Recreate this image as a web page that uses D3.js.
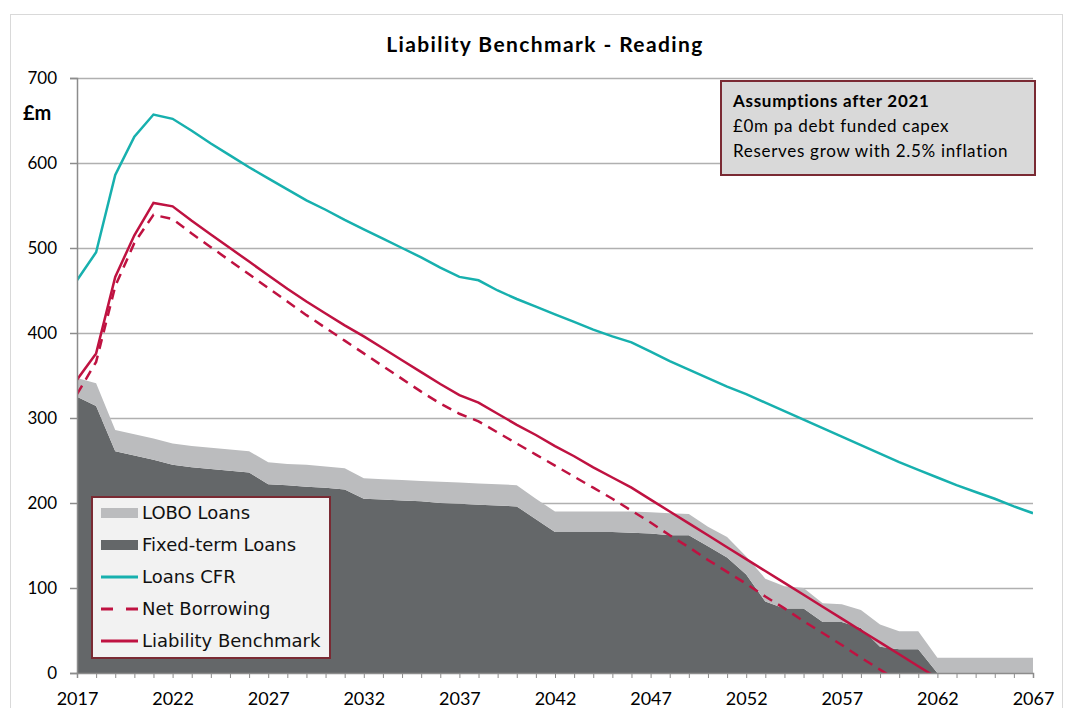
<!DOCTYPE html>
<html>
<head>
<meta charset="utf-8">
<script src="https://cdnjs.cloudflare.com/ajax/libs/d3/7.8.5/d3.min.js"></script>
<style>
  body { margin: 0; background: #fff; }
  svg { display: block; }
</style>
</head>
<body>
<div id="chart"></div>
<script>
// years on the x axis, one point per year
var years = [2017, 2018, 2019, 2020, 2021, 2022, 2023, 2024, 2025, 2026,
  2027, 2028, 2029, 2030, 2031, 2032, 2033, 2034, 2035, 2036,
  2037, 2038, 2039, 2040, 2041, 2042, 2043, 2044, 2045, 2046,
  2047, 2048, 2049, 2050, 2051, 2052, 2053, 2054, 2055, 2056,
  2057, 2058, 2059, 2060, 2061, 2062, 2063, 2064, 2065, 2066, 2067];
var xLabelYears = [2017, 2022, 2027, 2032, 2037, 2042, 2047, 2052, 2057, 2062, 2067];
var yTicks = [0, 100, 200, 300, 400, 500, 600, 700];

// stacked areas (£m)
var fixedTerm = [325, 314, 261, 256, 251, 245, 242, 240, 238, 236,
  222, 221, 219, 218, 216, 205, 204, 203, 202, 200,
  199, 198, 197, 196, 181, 166, 166, 166, 166, 165,
  164, 162, 162, 149, 136, 116, 84, 76, 76, 60,
  60, 53, 31, 28, 28, 0, 0, 0, 0, 0, 0];
var lobo = [22, 27, 25, 25, 25, 25, 25, 25, 25, 25,
  26, 25, 26, 25, 25, 24, 24, 24, 24, 25,
  25, 25, 25, 25, 24, 24, 24, 24, 24, 25,
  25, 26, 25, 23, 24, 21, 27, 26, 24, 22,
  21, 21, 26, 21, 21, 18, 18, 18, 18, 18, 18];

// lines (£m)
var loansCFR = [462, 495, 586, 631, 657, 652, 638, 623, 609, 595,
  582, 569, 556, 545, 533, 522, 511, 500, 489, 477,
  466, 462, 450, 440, 431, 422, 413, 404, 396, 389,
  378, 367, 357, 347, 337, 328, 318, 308, 298, 288,
  278, 268, 258, 248, 239, 230, 221, 213, 205, 196, 188];
var netBorrowing = [328, 366, 455, 506, 539, 534, 517, 501, 485, 469,
  453, 437, 421, 406, 391, 376, 361, 346, 331, 317,
  305, 296, 283, 270, 257, 244, 231, 218, 205, 191,
  177, 162, 148, 133, 119, 105, 90, 76, 61, 47,
  33, 18, 4, -10];
var liabilityBenchmark = [345, 376, 466, 515, 553, 549, 532, 516, 500, 484,
  468, 452, 437, 423, 409, 396, 382, 368, 354, 340,
  327, 318, 305, 292, 280, 267, 255, 242, 230, 218,
  204, 190, 176, 162, 148, 134, 120, 106, 92, 78,
  64, 50, 36, 22, 8, -6];

var legendNames = ["LOBO Loans", "Fixed-term Loans", "Loans CFR", "Net Borrowing", "Liability Benchmark"];
var boxLines = ["Assumptions after 2021", "\u00a30m pa debt funded capex", "Reserves grow with 2.5% inflation"];

var colLobo = "#bbbcbe";
var colFixed = "#646769";
var colCFR = "#17b0ae";
var colRed = "#bf1241";
var colFrame = "#7a2a33";

var w = 1069, h = 708;
var plotLeft = 77, plotRight = 1033, plotTop = 78, plotBottom = 673;

var svg = d3.select("#chart").append("svg")
  .attr("width", w)
  .attr("height", h);

// outer chart frame
svg.append("rect")
  .attr("x", 10.5).attr("y", 14.5)
  .attr("width", 1052).attr("height", 720)
  .attr("fill", "none")
  .attr("stroke", "#d9d9d9");

var x = d3.scaleLinear().domain([2017, 2067]).range([plotLeft, plotRight]);
var y = d3.scaleLinear().domain([0, 700]).range([plotBottom, plotTop]);

var font = "Lato, 'Open Sans', sans-serif";

// title
svg.append("text")
  .attr("x", 545).attr("y", 52)
  .attr("text-anchor", "middle")
  .attr("font-family", font)
  .attr("font-weight", "bold")
  .attr("font-size", "21px")
  .attr("letter-spacing", "1.4px")
  .attr("fill", "#000")
  .text("Liability Benchmark - Reading");

svg.append("text")
  .attr("x", 23).attr("y", 120)
  .attr("font-family", font)
  .attr("font-weight", "bold")
  .attr("font-size", "20px")
  .attr("fill", "#000")
  .text("\u00a3m");

// gridlines
var grid = svg.append("g")
  .attr("transform", "translate(" + plotLeft + ",0)")
  .call(d3.axisLeft(y).tickValues(yTicks.slice(1)).tickSize(-(plotRight - plotLeft)).tickFormat(""));
grid.select(".domain").remove();
grid.selectAll("line").attr("stroke", "#b0b0b0").attr("stroke-width", 1.5);

// stacked areas
var rows = years.map(function(d, i) {
  return { year: d, fixed: fixedTerm[i], lobo: lobo[i] };
});
var stack = d3.stack().keys(["fixed", "lobo"]);
var layers = stack(rows);
var area = d3.area()
  .x(function(d) { return x(d.data.year); })
  .y0(function(d) { return y(d[0]); })
  .y1(function(d) { return y(d[1]); });

svg.selectAll("path.layer")
  .data(layers)
  .enter()
  .append("path")
  .attr("class", "layer")
  .attr("d", area)
  .attr("fill", function(d, i) { return i == 0 ? colFixed : colLobo; });

// clip lines to plot area (values below zero are cut off)
svg.append("clipPath").attr("id", "plotClip")
  .append("rect")
  .attr("x", plotLeft).attr("y", plotTop - 5)
  .attr("width", plotRight - plotLeft).attr("height", plotBottom - plotTop + 5);

function makeLine(values) {
  return d3.line()
    .x(function(d, i) { return x(years[i]); })
    .y(function(d) { return y(d); })(values);
}

var lines = svg.append("g").attr("clip-path", "url(#plotClip)");
lines.append("path")
  .attr("d", makeLine(loansCFR))
  .attr("fill", "none").attr("stroke", colCFR).attr("stroke-width", 2.5);
lines.append("path")
  .attr("d", makeLine(netBorrowing))
  .attr("fill", "none").attr("stroke", colRed).attr("stroke-width", 2.5)
  .attr("stroke-dasharray", "10,7");
lines.append("path")
  .attr("d", makeLine(liabilityBenchmark))
  .attr("fill", "none").attr("stroke", colRed).attr("stroke-width", 2.5);

// y axis
var yAxis = svg.append("g")
  .attr("transform", "translate(" + plotLeft + ",0)")
  .call(d3.axisLeft(y).tickValues(yTicks).tickSize(7).tickPadding(13));
yAxis.select(".domain").attr("stroke", "#8c8c8c").attr("stroke-width", 1.5);
yAxis.selectAll("line").attr("stroke", "#8c8c8c").attr("stroke-width", 1.5);
yAxis.selectAll("text")
  .attr("font-family", font)
  .attr("font-size", "17px")
  .attr("fill", "#000");

// x axis
var xAxis = svg.append("g")
  .attr("transform", "translate(0," + plotBottom + ")")
  .call(d3.axisBottom(x).tickValues(years).tickSize(5).tickPadding(14)
    .tickFormat(function(d) { return xLabelYears.indexOf(d) >= 0 ? d : ""; }));
xAxis.select(".domain").attr("stroke", "#8c8c8c").attr("stroke-width", 1.5);
xAxis.selectAll("line").attr("stroke", "#8c8c8c").attr("stroke-width", 1);
xAxis.selectAll("text")
  .attr("font-family", font)
  .attr("font-size", "18px")
  .attr("fill", "#000");

// legend
var legend = svg.append("g");
legend.append("rect")
  .attr("x", 92).attr("y", 497)
  .attr("width", 238).attr("height", 161)
  .attr("fill", "#f2f2f2")
  .attr("stroke", colFrame).attr("stroke-width", 2);

var items = legend.selectAll("g.item")
  .data(legendNames)
  .enter()
  .append("g")
  .attr("class", "item")
  .attr("transform", function(d, i) { return "translate(0," + (513 + i * 32) + ")"; });

items.each(function(d, i) {
  var g = d3.select(this);
  if (i < 2) {
    g.append("rect")
      .attr("x", 101).attr("y", -5)
      .attr("width", 37).attr("height", 10)
      .attr("fill", i == 0 ? colLobo : colFixed);
  } else {
    g.append("line")
      .attr("x1", 101).attr("x2", 138)
      .attr("y1", 0).attr("y2", 0)
      .attr("stroke", i == 2 ? colCFR : colRed)
      .attr("stroke-width", 3)
      .attr("stroke-dasharray", i == 3 ? "12,13" : null);
  }
  g.append("text")
    .attr("x", 142).attr("y", 0)
    .attr("dy", "0.35em")
    .attr("font-family", "'DejaVu Sans', sans-serif")
    .attr("font-size", "18px")
    .attr("fill", "#111")
    .text(d);
});

// assumptions box
svg.append("rect")
  .attr("x", 721).attr("y", 81)
  .attr("width", 314).attr("height", 94)
  .attr("fill", "#d9d9d9")
  .attr("stroke", colFrame).attr("stroke-width", 2);

svg.selectAll("text.box")
  .data(boxLines)
  .enter()
  .append("text")
  .attr("class", "box")
  .attr("x", 733)
  .attr("y", function(d, i) { return 107 + i * 25; })
  .attr("font-family", font)
  .attr("font-weight", function(d, i) { return i == 0 ? "bold" : "normal"; })
  .attr("font-size", "17px")
  .attr("letter-spacing", "0.7px")
  .attr("fill", "#000")
  .text(function(d) { return d; });
</script>
</body>
</html>
